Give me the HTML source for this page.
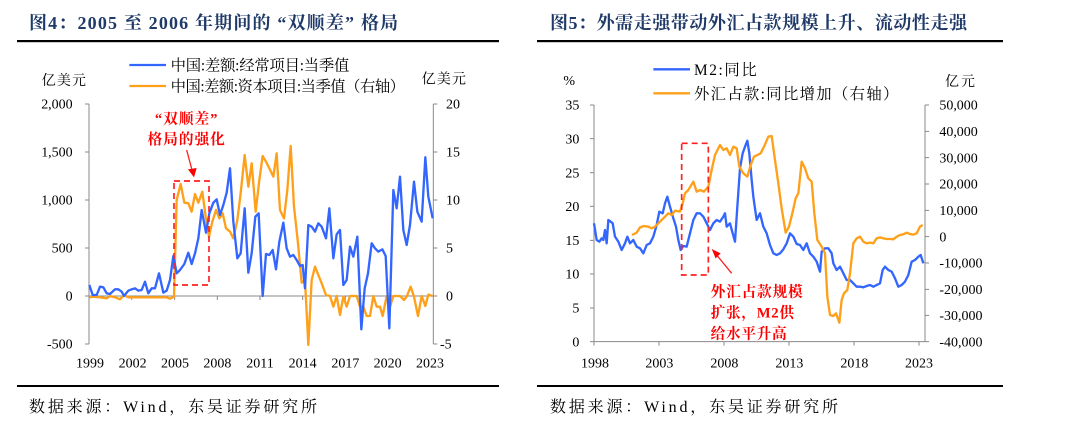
<!DOCTYPE html>
<html><head><meta charset="utf-8"><style>
html,body{margin:0;padding:0;background:#fff;width:1080px;height:432px;overflow:hidden}
svg{display:block}
.t{font-family:"Liberation Serif","Noto Serif CJK SC",serif;}
.c{font-family:"Liberation Serif","Noto Serif CJK SC","Noto Sans CJK SC",serif;}
</style></head><body>
<svg width="1080" height="432" viewBox="0 0 1080 432" xmlns="http://www.w3.org/2000/svg">
<text x="29" y="29" class="t" font-size="18" font-weight="bold" fill="#1f3a68" textLength="369" lengthAdjust="spacing" xml:space="preserve">图4：2005 至 2006 年期间的 “双顺差” 格局</text>
<text x="550" y="29" class="t" font-size="18" font-weight="bold" fill="#1f3a68" textLength="417" lengthAdjust="spacing">图5：外需走强带动外汇占款规模上升、流动性走强</text>
<rect x="17" y="40" width="482" height="2.2" fill="#000"/>
<rect x="537" y="40" width="466" height="2.2" fill="#000"/>
<rect x="17" y="385" width="482" height="2" fill="#000"/>
<rect x="537" y="385" width="466" height="2" fill="#000"/>
<text x="29" y="412" class="c" font-size="16" fill="#000" textLength="288" lengthAdjust="spacing">数据来源：Wind，东吴证券研究所</text>
<text x="550" y="412" class="c" font-size="16" fill="#000" textLength="288" lengthAdjust="spacing">数据来源：Wind，东吴证券研究所</text>

<g transform="translate(0,40) scale(0.33333)" class="c" font-size="42">
<g stroke="#8a8a8a" stroke-width="3" fill="none">
<line x1="267" y1="192" x2="267" y2="912"/>
<line x1="1300" y1="192" x2="1300" y2="912"/>
<line x1="267" y1="768" x2="1300" y2="768"/>
<path d="M255 192H267M255 336H267M255 480H267M255 624H267M255 768H267M255 912H267"/>
<path d="M1300 192H1312M1300 336H1312M1300 480H1312M1300 624H1312M1300 768H1312M1300 912H1312"/>
<path d="M395 768v12M524 768v12M652 768v12M780 768v12M908 768v12M1036 768v12M1164 768v12"/>
</g>
<g text-anchor="end" fill="#000">
<text x="218" y="206">2,000</text><text x="218" y="350">1,500</text><text x="218" y="494">1,000</text>
<text x="218" y="638">500</text><text x="218" y="782">0</text><text x="218" y="926">-500</text>
</g>
<g fill="#000">
<text x="1338" y="206">20</text><text x="1338" y="350">15</text><text x="1338" y="494">10</text>
<text x="1338" y="638">5</text><text x="1338" y="782">0</text><text x="1320" y="926">-5</text>
</g>
<g text-anchor="middle" fill="#000">
<text x="270" y="982">1999</text><text x="398" y="982">2002</text><text x="525" y="982">2005</text>
<text x="652" y="982">2008</text><text x="780" y="982">2011</text><text x="908" y="982">2014</text>
<text x="1036" y="982">2017</text><text x="1163" y="982">2020</text><text x="1290" y="982">2023</text>
</g>
<text x="125" y="135" fill="#000" textLength="133" lengthAdjust="spacing">亿美元</text>
<text x="1265" y="130" fill="#000" textLength="133" lengthAdjust="spacing">亿美元</text>
<line x1="388" y1="75" x2="498" y2="75" stroke="#3366ff" stroke-width="7"/>
<line x1="388" y1="138" x2="498" y2="138" stroke="#ffa01a" stroke-width="7"/>
<text x="512" y="92" fill="#000" font-size="46" textLength="536" lengthAdjust="spacing">中国:差额:经常项目:当季值</text>
<text x="512" y="155" fill="#000" font-size="46" textLength="703" lengthAdjust="spacing">中国:差额:资本项目:当季值（右轴）</text>
<polyline fill="none" stroke="#ffa01a" stroke-width="7" stroke-linejoin="round" points="268,772 280,770 300,772 320,775 330,768 345,772 360,778 372,765 385,772 400,772 420,772 440,772 460,772 480,772 500,772 510,776 522,770 530,480 542,432 553,488 565,490 575,515 585,462 595,488 607,455 617,530 627,590 637,545 648,510 658,535 668,520 678,565 690,575 700,595 712,540 722,460 734,345 745,440 755,370 767,515 778,420 788,348 798,365 808,385 820,410 830,340 840,510 852,535 862,450 872,318 882,500 893,600 905,728 915,720 925,915 935,720 945,680 955,705 965,730 978,765 990,768 1000,800 1010,768 1020,825 1030,770 1040,800 1050,768 1070,768 1080,800 1090,800 1100,828 1110,828 1120,768 1130,800 1140,800 1148,828 1160,768 1170,800 1180,768 1200,768 1212,780 1220,770 1232,740 1242,770 1254,828 1265,768 1276,798 1285,764 1298,768"/>
<polyline fill="none" stroke="#3366ff" stroke-width="7" stroke-linejoin="round" points="268,735 278,765 290,765 300,740 310,742 320,760 330,762 345,748 355,748 365,755 372,768 385,752 395,748 405,745 415,752 425,750 435,725 445,760 455,745 465,745 477,700 490,758 500,752 510,720 520,648 530,700 540,690 553,672 565,638 575,672 585,640 595,595 605,510 618,578 628,520 640,488 650,478 660,525 670,495 680,458 690,385 700,545 712,655 722,640 734,505 745,698 755,640 766,530 776,520 788,768 798,642 808,645 818,630 828,688 838,605 850,548 860,625 870,650 880,645 890,660 900,678 908,675 915,745 925,555 935,560 945,575 955,550 965,560 978,595 988,505 1000,655 1010,583 1020,570 1030,735 1040,720 1050,620 1060,650 1072,590 1084,868 1094,745 1104,700 1115,610 1125,625 1135,635 1147,628 1157,648 1168,865 1180,450 1190,505 1200,410 1210,570 1220,615 1230,555 1242,425 1252,515 1265,545 1276,352 1285,470 1298,535"/>
<rect x="522" y="423" width="105" height="312" fill="none" stroke="#ff2020" stroke-width="5" stroke-dasharray="18,12"/>
<line x1="560" y1="330" x2="576" y2="390" stroke="#ff2020" stroke-width="4"/>
<polygon points="564,388 590,384 582,412" fill="#ff0000"/>
<text x="560" y="250" text-anchor="middle" fill="#ff0000" font-weight="bold" font-size="44" letter-spacing="3">“双顺差”</text>
<text x="560" y="312" text-anchor="middle" fill="#ff0000" font-weight="bold" font-size="44" letter-spacing="3">格局的强化</text>
</g>

<g transform="translate(540,40) scale(0.33333)" class="c" font-size="42">
<g stroke="#8a8a8a" stroke-width="3" fill="none">
<line x1="162" y1="195" x2="162" y2="905"/>
<line x1="1155" y1="195" x2="1155" y2="905"/>
<line x1="162" y1="905" x2="1155" y2="905"/>
<path d="M150 195H162M150 296H162M150 398H162M150 499H162M150 601H162M150 702H162M150 804H162M150 905H162"/>
<path d="M1155 195H1167M1155 274H1167M1155 353H1167M1155 432H1167M1155 511H1167M1155 590H1167M1155 669H1167M1155 748H1167M1155 826H1167M1155 905H1167"/>
<path d="M162 905v12M357 905v12M552 905v12M747 905v12M942 905v12M1137 905v12"/>
</g>
<g text-anchor="end" fill="#000">
<text x="118" y="209">35</text><text x="118" y="310">30</text><text x="118" y="412">25</text><text x="118" y="513">20</text>
<text x="118" y="615">15</text><text x="118" y="716">10</text><text x="118" y="818">5</text><text x="118" y="919">0</text>
</g>
<g fill="#000">
<text x="1198" y="209">50,000</text><text x="1198" y="288">40,000</text><text x="1198" y="367">30,000</text>
<text x="1198" y="446">20,000</text><text x="1198" y="525">10,000</text><text x="1198" y="604">0</text>
<text x="1198" y="683">-10,000</text><text x="1198" y="762">-20,000</text><text x="1198" y="840">-30,000</text><text x="1198" y="919">-40,000</text>
</g>
<g text-anchor="middle" fill="#000">
<text x="165" y="982">1998</text><text x="358" y="982">2003</text><text x="553" y="982">2008</text>
<text x="748" y="982">2013</text><text x="943" y="982">2018</text><text x="1137" y="982">2023</text>
</g>
<text x="70" y="135" fill="#000">%</text>
<text x="1215" y="138" fill="#000" textLength="90" lengthAdjust="spacing">亿元</text>
<line x1="340" y1="88" x2="450" y2="88" stroke="#3366ff" stroke-width="7"/>
<line x1="340" y1="160" x2="450" y2="160" stroke="#ffa01a" stroke-width="7"/>
<text x="462" y="105" fill="#000" font-size="46" textLength="188" lengthAdjust="spacing">M2:同比</text>
<text x="462" y="177" fill="#000" font-size="46" textLength="613" lengthAdjust="spacing">外汇占款:同比增加（右轴）</text>
<polyline fill="none" stroke="#3366ff" stroke-width="7" stroke-linejoin="round" points="162,550 170,600 178,605 185,595 190,600 195,570 200,610 205,540 212,545 218,550 225,590 235,605 245,630 255,610 262,590 270,610 280,600 290,620 300,625 310,640 320,615 330,610 340,590 350,555 358,515 368,520 375,490 382,470 390,500 400,535 408,560 415,600 422,630 430,618 440,620 450,580 460,540 470,520 480,520 490,530 500,550 510,570 520,550 530,540 540,545 550,530 555,520 560,560 570,550 578,580 585,605 592,500 600,385 608,340 615,320 622,302 628,340 635,420 640,470 650,540 660,520 670,560 680,580 690,615 700,640 710,645 720,640 730,628 740,610 750,580 760,590 770,612 780,615 790,630 800,610 810,640 820,650 830,665 840,695 845,635 855,625 865,625 875,640 880,670 890,690 900,680 910,700 920,720 930,720 940,730 950,740 960,740 970,742 980,738 990,735 1000,740 1010,735 1020,730 1028,690 1035,680 1045,690 1055,695 1065,715 1075,740 1085,735 1095,725 1105,705 1115,665 1125,660 1135,650 1142,645 1150,670"/>
<polyline fill="none" stroke="#ffa01a" stroke-width="7" stroke-linejoin="round" points="276,585 290,578 300,562 312,558 325,560 335,565 345,560 355,550 365,540 375,530 385,520 395,525 405,512 420,515 428,490 435,460 445,450 460,425 470,455 480,450 492,455 505,440 515,390 525,345 540,315 550,330 560,325 570,345 580,320 590,325 598,380 610,400 622,410 632,375 642,350 652,345 662,340 672,320 685,290 695,288 705,360 715,430 725,505 737,578 747,560 757,520 767,475 775,460 785,365 795,385 805,415 815,425 823,520 832,600 845,620 855,640 862,770 870,825 880,828 888,820 898,848 905,780 912,760 922,750 930,700 940,610 950,595 960,590 970,605 980,610 990,608 1000,610 1010,595 1020,592 1030,595 1040,597 1050,597 1060,598 1070,590 1080,585 1090,583 1100,578 1110,582 1120,584 1130,580 1140,560 1148,555"/>
<rect x="425" y="310" width="80" height="395" fill="none" stroke="#ff2020" stroke-width="5" stroke-dasharray="18,12"/>
<line x1="575" y1="700" x2="530" y2="645" stroke="#ff2020" stroke-width="4"/>
<polygon points="515,627 542,640 527,655" fill="#ff0000"/>
<g fill="#ff0000" font-weight="bold" font-size="44">
<text x="512" y="770" textLength="276" lengthAdjust="spacing">外汇占款规模</text>
<text x="512" y="833" textLength="250" lengthAdjust="spacing">扩张，M2供</text>
<text x="512" y="895" textLength="228" lengthAdjust="spacing">给水平升高</text>
</g>
</g>
</svg>
</body></html>
